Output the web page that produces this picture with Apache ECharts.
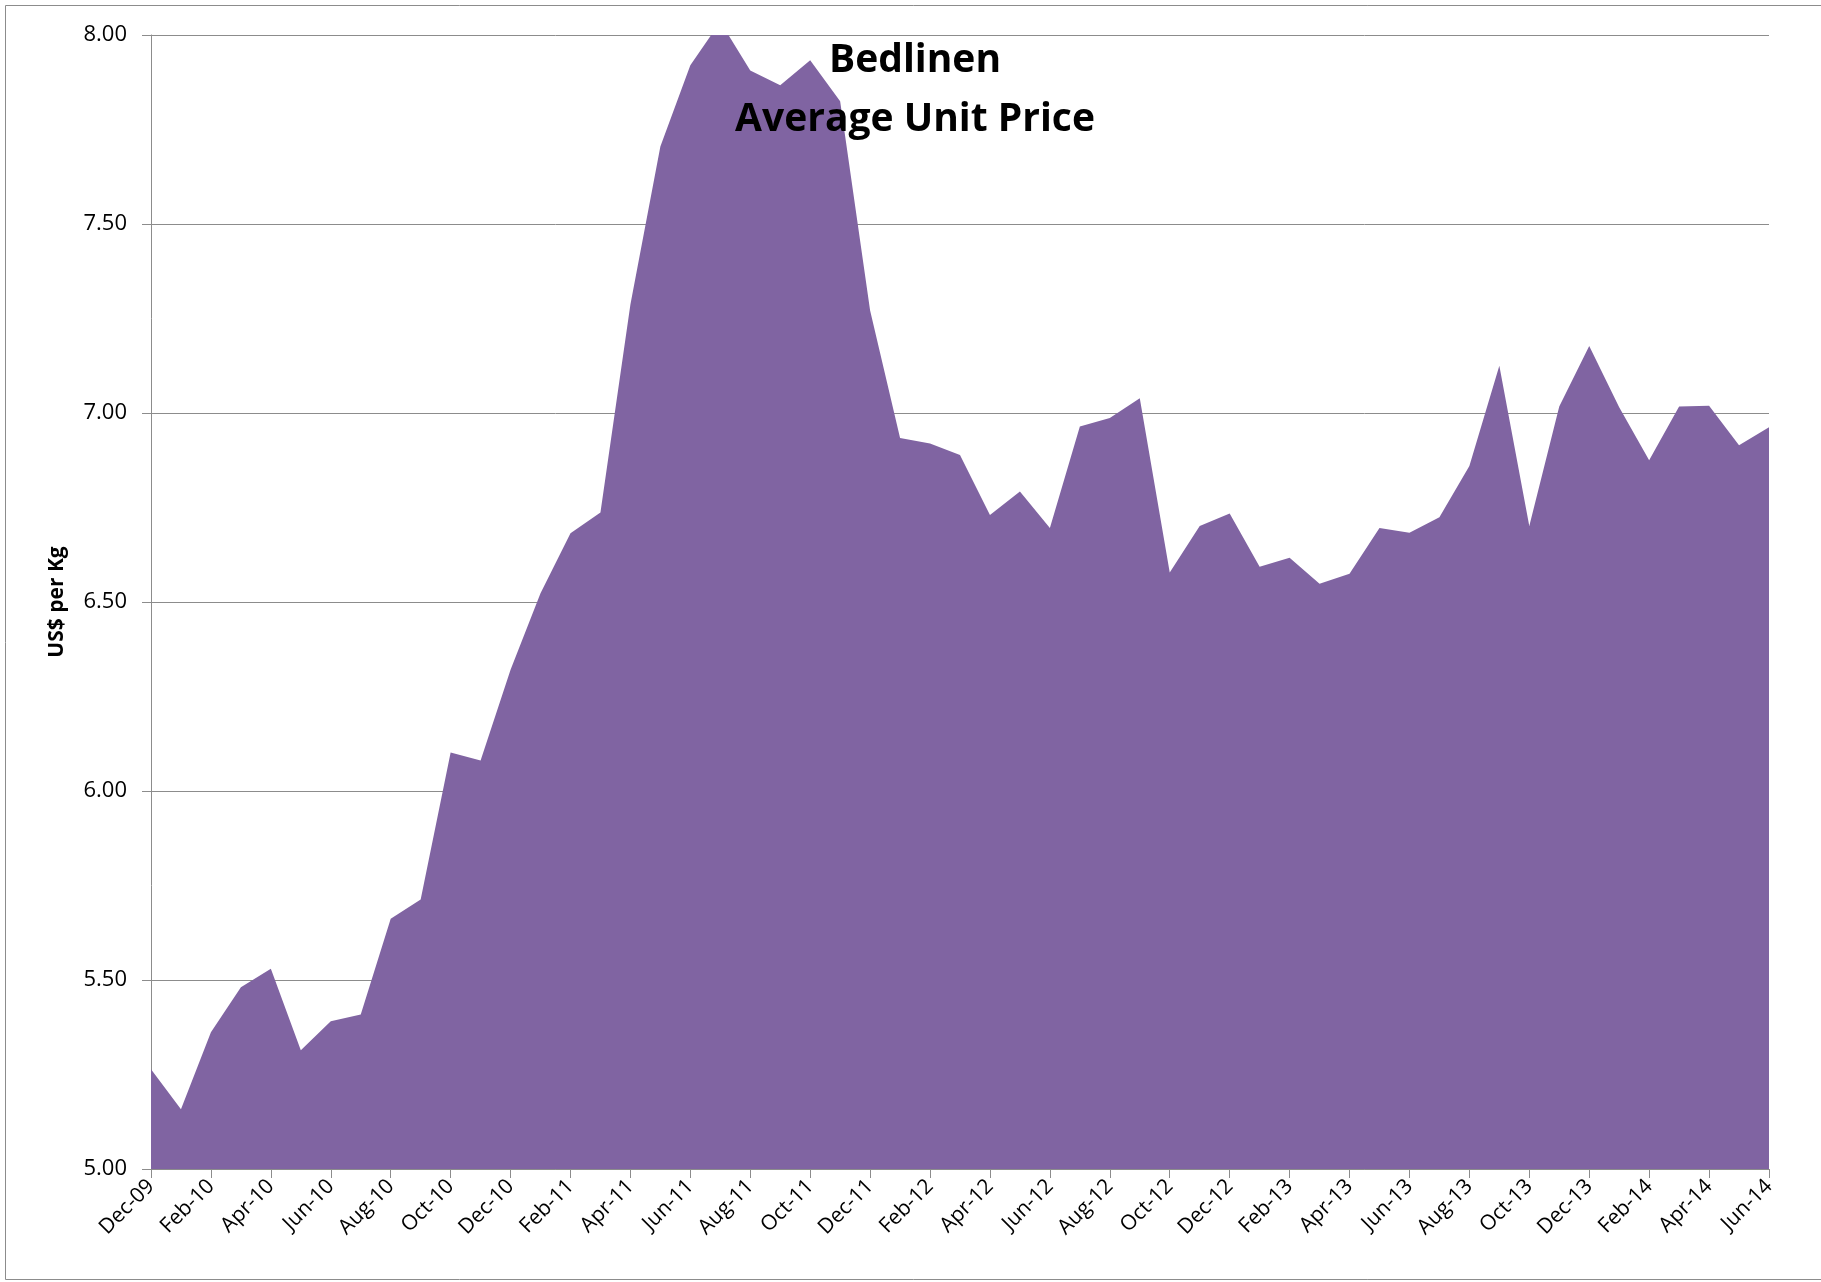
<!DOCTYPE html>
<html>
<head>
<meta charset="utf-8">
<script src="https://cdn.jsdelivr.net/npm/echarts@6/dist/echarts.min.js"></script>
<style>
  html, body { margin: 0; padding: 0; background: #fff; }
  #chart { width: 1821px; height: 1282px; }
</style>
</head>
<body>
<div id="chart"></div>
<script>
// monthly categories, Dec-09 .. Jun-14
const months = [
  'Dec-09',
  'Jan-10', 'Feb-10', 'Mar-10', 'Apr-10', 'May-10', 'Jun-10', 'Jul-10', 'Aug-10', 'Sep-10', 'Oct-10', 'Nov-10', 'Dec-10',
  'Jan-11', 'Feb-11', 'Mar-11', 'Apr-11', 'May-11', 'Jun-11', 'Jul-11', 'Aug-11', 'Sep-11', 'Oct-11', 'Nov-11', 'Dec-11',
  'Jan-12', 'Feb-12', 'Mar-12', 'Apr-12', 'May-12', 'Jun-12', 'Jul-12', 'Aug-12', 'Sep-12', 'Oct-12', 'Nov-12', 'Dec-12',
  'Jan-13', 'Feb-13', 'Mar-13', 'Apr-13', 'May-13', 'Jun-13', 'Jul-13', 'Aug-13', 'Sep-13', 'Oct-13', 'Nov-13', 'Dec-13',
  'Jan-14', 'Feb-14', 'Mar-14', 'Apr-14', 'May-14', 'Jun-14'
];

// average unit price, US$ per Kg
const unitPrice = [
  5.264, 5.158, 5.362, 5.481, 5.530, 5.314, 5.391, 5.409, 5.662, 5.713,
  6.102, 6.081, 6.321, 6.523, 6.682, 6.737, 7.287, 7.705, 7.920, 8.035,
  7.906, 7.867, 7.933, 7.825, 7.271, 6.934, 6.919, 6.889, 6.730, 6.792,
  6.696, 6.964, 6.987, 7.039, 6.578, 6.701, 6.734, 6.593, 6.617, 6.548,
  6.575, 6.696, 6.683, 6.724, 6.860, 7.125, 6.701, 7.017, 7.177, 7.015,
  6.875, 7.017, 7.019, 6.915, 6.962
];

const yTicks = [5.0, 5.5, 6.0, 6.5, 7.0, 7.5, 8.0];

const chart = echarts.init(document.getElementById('chart'));

const option = {
  animation: false,
  backgroundColor: '#fff',
  textStyle: { fontFamily: 'Open Sans' },
  title: {
    text: 'Bedlinen\nAverage Unit Price',
    left: 910,
    top: 26,
    textAlign: 'center',
    textStyle: {
      fontFamily: 'Open Sans',
      fontWeight: 'bold',
      fontSize: 39,
      lineHeight: 59,
      color: '#000'
    }
  },
  graphic: [{
    type: 'rect',
    shape: { x: 5.5, y: 5.5, width: 1830, height: 1274 },
    style: { fill: 'none', stroke: '#8c8c8c', lineWidth: 1 },
    silent: true
  }],
  grid: {
    left: 151,
    right: 52,
    top: 35,
    bottom: 113
  },
  xAxis: {
    type: 'category',
    data: months,
    boundaryGap: false,
    axisLine: { lineStyle: { color: '#8c8c8c', width: 1 } },
    axisTick: {
      show: true,
      interval: 1,
      length: 9,
      lineStyle: { color: '#8c8c8c' }
    },
    axisLabel: {
      interval: 1,
      rotate: 45,
      margin: 14,
      fontSize: 21,
      color: '#000'
    }
  },
  yAxis: {
    type: 'value',
    min: yTicks[0],
    max: yTicks[yTicks.length - 1],
    interval: 0.5,
    name: 'US$ per Kg',
    nameLocation: 'middle',
    nameGap: 83,
    nameTextStyle: { fontSize: 21, fontWeight: 'bold', color: '#000' },
    axisLine: { show: true, lineStyle: { color: '#8c8c8c', width: 1 } },
    axisTick: { show: true, length: 9, lineStyle: { color: '#8c8c8c' } },
    axisLabel: {
      margin: 24,
      fontSize: 22,
      color: '#000',
      formatter: function (v) { return v.toFixed(2); }
    },
    splitLine: { lineStyle: { color: '#8c8c8c', width: 1 } }
  },
  series: [{
    type: 'line',
    data: unitPrice,
    symbol: 'none',
    clip: true,
    lineStyle: { width: 0 },
    areaStyle: { color: '#8064a2', opacity: 1, origin: 'start' },
    z: 1
  }]
};

chart.setOption(option);
</script>
</body>
</html>
